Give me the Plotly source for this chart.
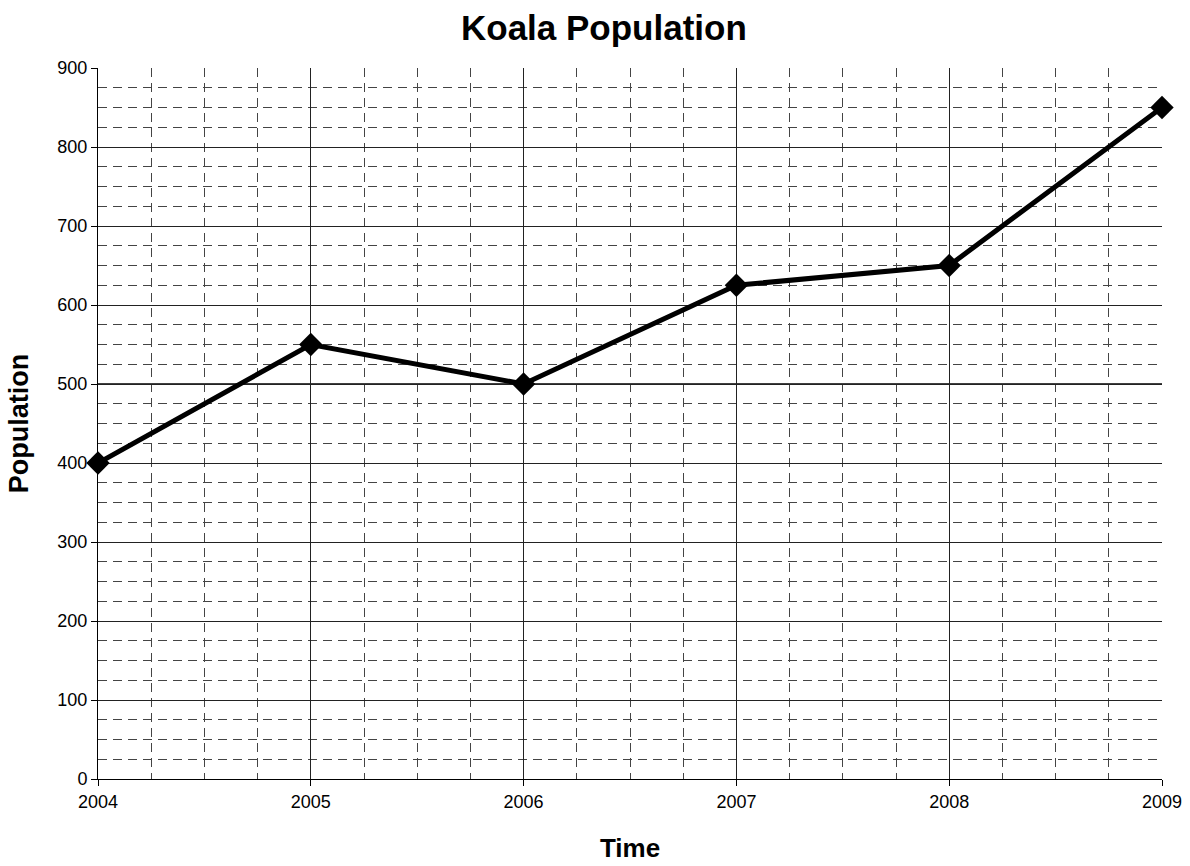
import plotly.graph_objects as go

# Koala population counts by year
years = [2004, 2005, 2006, 2007, 2008, 2009]
population = [400, 550, 500, 625, 650, 850]

font_family = "Liberation Sans, Arial, sans-serif"

fig = go.Figure()
fig.add_trace(go.Scatter(
    x=years,
    y=population,
    mode="lines+markers",
    line=dict(color="black", width=5),
    marker=dict(symbol="diamond", size=18, color="black"),
    cliponaxis=False,
    showlegend=False,
))

axis_common = dict(
    showline=True,
    linecolor="black",
    linewidth=1,
    ticks="outside",
    ticklen=6,
    tickcolor="black",
    showgrid=True,
    gridcolor="#222222",
    gridwidth=1,
    zeroline=False,
    automargin=False,
    tickfont=dict(family=font_family, size=18, color="black"),
    mirror=False,
)

fig.update_xaxes(
    **axis_common,
    range=[2004, 2009],
    tick0=2004,
    dtick=1,
    minor=dict(dtick=0.25, tick0=2004, showgrid=True, gridcolor="#444444",
               griddash="9px,6px", gridwidth=1, ticks=""),
    title=dict(text="<b>Time</b>", font=dict(family=font_family, size=26, color="black"),
               standoff=28),
)
fig.update_yaxes(
    **axis_common,
    range=[0, 900],
    tick0=0,
    dtick=100,
    minor=dict(dtick=25, tick0=0, showgrid=True, gridcolor="#444444",
               griddash="9px,6px", gridwidth=1, ticks=""),
    title=dict(text="<b>Population</b>", font=dict(family=font_family, size=27, color="black"),
               standoff=20),
)

fig.update_layout(
    width=1190,
    height=866,
    margin=dict(l=98, r=28, t=68, b=87, autoexpand=False),
    paper_bgcolor="white",
    plot_bgcolor="white",
    title=dict(text="<b>Koala Population</b>", x=0.5075, xanchor="center", y=0.968,
               yanchor="middle", font=dict(family=font_family, size=35, color="black")),
    shapes=[dict(type="line", xref="paper", yref="y", x0=0, x1=1, y0=500, y1=500,
                 line=dict(color="black", width=1.5), layer="below")],
)

fig.write_html("out.html")
